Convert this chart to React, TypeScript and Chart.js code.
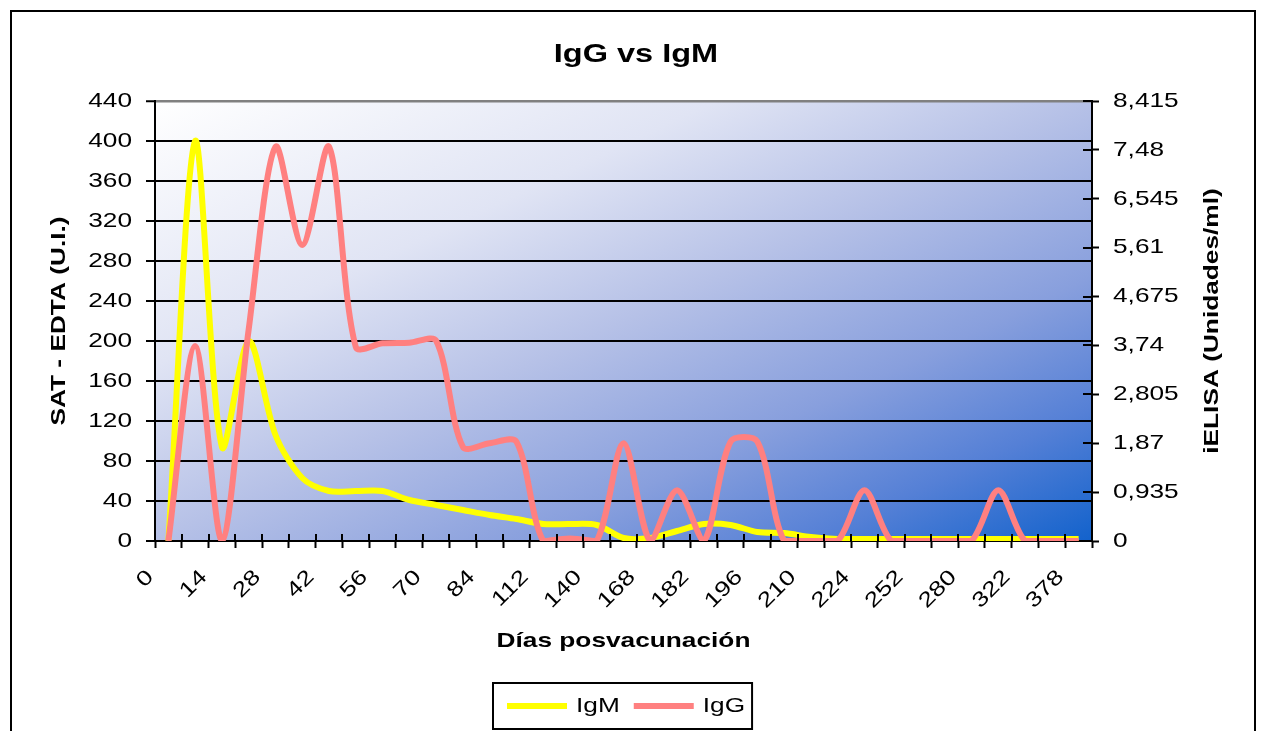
import { useEffect, useRef } from 'react';
import { Chart, registerables } from 'chart.js';

Chart.register(...registerables);

// Etiquetas visibles del eje de días (una categoría sin rótulo entre cada par)
const etiquetasDias = ['0', '14', '28', '42', '56', '70', '84', '112', '140', '168', '182', '196', '210', '224', '252', '280', '322', '378'];
const categorias = etiquetasDias.flatMap((d, i) => (i < etiquetasDias.length - 1 ? [d, ''] : [d]));

// SAT - EDTA (U.I.), eje izquierdo
const igm = [0, 400, 94, 200, 106, 63, 50, 50, 50, 41, 36, 31, 26, 22, 17, 17, 16, 3, 3, 10, 17, 16, 9, 8, 4, 2, 2, 2, 2, 2, 2, 2, 2, 2, 2];

// iELISA (Unidades/ml), eje derecho
const igg = [0, 3.73, 0, 4.05, 7.54, 5.66, 7.54, 3.71, 3.78, 3.79, 3.83, 1.8, 1.87, 1.9, 0, 0.05, 0, 1.87, 0, 0.97, 0, 1.9, 1.9, 0, 0, 0, 0.97, 0, 0, 0, 0, 0.97, 0, 0, 0];

const ticksElisa = [0, 0.935, 1.87, 2.805, 3.74, 4.675, 5.61, 6.545, 7.48, 8.415];

const FUENTE = "'Liberation Sans', Arial, Helvetica, sans-serif";
const ANCHO_GLIFO = 1.25; // los textos se dibujan ensanchados en su propia dirección

Chart.defaults.font.family = FUENTE;
Chart.defaults.color = '#000';

// Fondo del área de trazado: degradado diagonal de blanco a azul
const fondoDegradado = {
  id: 'fondoDegradado',
  beforeDraw(chart: any) {
    const { ctx, chartArea: a } = chart;
    const w = a.right - a.left;
    const h = a.bottom - a.top;
    const k = (2 * w * h) / (w * w + h * h);
    const g = ctx.createLinearGradient(a.left, a.top, a.left + k * h, a.top + k * w);
    g.addColorStop(0, '#FFFFFF');
    g.addColorStop(0.3, '#E0E4F4');
    g.addColorStop(0.5, '#B6C1E7');
    g.addColorStop(0.7, '#889FDD');
    g.addColorStop(0.85, '#5580D6');
    g.addColorStop(1, '#1262CC');
    ctx.save();
    ctx.fillStyle = g;
    ctx.fillRect(a.left, a.top, w, h);
    ctx.restore();
  },
};

// Parte interior de las marcas que cruzan los ejes X y derecho
const marcasCruzadas = {
  id: 'marcasCruzadas',
  afterDatasetsDraw(chart: any) {
    const { ctx, chartArea: a, scales } = chart;
    const x = scales.x;
    const paso = x.getPixelForTick(1) - x.getPixelForTick(0);
    ctx.save();
    ctx.strokeStyle = '#000';
    ctx.lineWidth = 2;
    ctx.beginPath();
    for (let i = 0; i <= categorias.length; i++) {
      const px = Math.round(x.getPixelForTick(0) - paso / 2 + paso * i);
      ctx.moveTo(px, a.bottom);
      ctx.lineTo(px, a.bottom - 7);
    }
    for (const t of scales.y1.ticks) {
      const py = Math.round(scales.y1.getPixelForValue(t.value));
      ctx.moveTo(a.right, py);
      ctx.lineTo(a.right - 9, py);
    }
    ctx.stroke();
    ctx.restore();
  },
};

// Marco exterior, título del eje derecho y leyenda enmarcada
const marcoYLeyenda = {
  id: 'marcoYLeyenda',
  afterDraw(chart: any) {
    const { ctx, chartArea: a } = chart;
    ctx.save();
    ctx.strokeStyle = '#000';
    ctx.lineWidth = 2;
    ctx.strokeRect(11, 11, 1244, 780);

    ctx.save();
    ctx.translate(1212, (a.top + a.bottom) / 2);
    ctx.rotate(-Math.PI / 2);
    ctx.font = `bold 21px ${FUENTE}`;
    ctx.fillStyle = '#000';
    ctx.textAlign = 'center';
    ctx.textBaseline = 'middle';
    ctx.fillText('iELISA (Unidades/ml)', 0, 0);
    ctx.restore();

    ctx.font = `21px ${FUENTE}`;
    const items = chart.data.datasets.map((ds: any) => ({
      label: ds.label,
      color: ds.borderColor,
      w: ctx.measureText(ds.label).width,
    }));
    const muestra = 60;
    const hueco = 9;
    const sep = 14;
    const padL = 14;
    const padR = 7;
    let total = padL + padR + sep * (items.length - 1);
    for (const it of items) total += muestra + hueco + it.w;
    const x0 = Math.round((a.left + a.right) / 2 - 1 - total / 2);
    const top = 683;
    const alto = 46;
    const cy = top + alto / 2;
    ctx.fillStyle = '#fff';
    ctx.fillRect(x0, top, total, alto);
    ctx.strokeStyle = '#000';
    ctx.lineWidth = 2;
    ctx.strokeRect(x0, top, total, alto);
    let x = x0 + padL;
    for (const it of items) {
      ctx.strokeStyle = it.color;
      ctx.lineWidth = 6;
      ctx.beginPath();
      ctx.moveTo(x, cy);
      ctx.lineTo(x + muestra, cy);
      ctx.stroke();
      x += muestra + hueco;
      ctx.fillStyle = '#000';
      ctx.textAlign = 'left';
      ctx.textBaseline = 'middle';
      ctx.fillText(it.label, x, cy);
      x += it.w + sep;
    }
    ctx.restore();
  },
};

function ensancharTexto(ctx: any, k: number) {
  const fill = ctx.fillText.bind(ctx);
  const measure = ctx.measureText.bind(ctx);
  ctx.fillText = (text: string, x: number, y: number, maxWidth?: number) => {
    ctx.save();
    ctx.translate(x, y);
    ctx.scale(k, 1);
    if (typeof maxWidth === 'number') fill(text, 0, 0, maxWidth / k);
    else fill(text, 0, 0);
    ctx.restore();
  };
  ctx.measureText = (text: string) => {
    const m = measure(text);
    return {
      width: m.width * k,
      actualBoundingBoxAscent: m.actualBoundingBoxAscent,
      actualBoundingBoxDescent: m.actualBoundingBoxDescent,
      actualBoundingBoxLeft: m.actualBoundingBoxLeft * k,
      actualBoundingBoxRight: m.actualBoundingBoxRight * k,
      fontBoundingBoxAscent: m.fontBoundingBoxAscent,
      fontBoundingBoxDescent: m.fontBoundingBoxDescent,
    };
  };
}

export default function App() {
  const ref = useRef<HTMLCanvasElement>(null);

  useEffect(() => {
    const canvas = ref.current;
    if (!canvas) return;
    const ctx: any = canvas.getContext('2d');
    ensancharTexto(ctx, ANCHO_GLIFO);

    const linea = { pointRadius: 0, pointHoverRadius: 0, borderWidth: 6, tension: 0.3, fill: false, clip: { left: 6, top: 6, right: 6, bottom: 0 } };

    const chart = new Chart(canvas, {
      type: 'line',
      data: {
        labels: categorias,
        datasets: [
          { ...linea, label: 'IgM', data: igm, yAxisID: 'y', borderColor: '#FFFF00', backgroundColor: '#FFFF00', order: 2 },
          { ...linea, label: 'IgG', data: igg, yAxisID: 'y1', borderColor: '#FF8080', backgroundColor: '#FF8080', order: 1 },
        ],
      },
      options: {
        animation: false,
        responsive: false,
        events: [],
        layout: { padding: { left: 10, right: 0, top: 0, bottom: 0 } },
        plugins: {
          legend: { display: false },
          tooltip: { enabled: false },
          title: {
            display: true,
            text: 'IgG vs IgM',
            color: '#000',
            font: { family: FUENTE, size: 26, weight: 'bold' },
            padding: { top: 39, bottom: 30.8 },
          },
        },
        scales: {
          x: {
            type: 'category',
            offset: true,
            grid: { drawOnChartArea: false, offset: true, color: '#000', tickColor: '#000', tickLength: 7, tickWidth: 2 },
            border: { color: '#000', width: 2 },
            ticks: { autoSkip: false, minRotation: 45, maxRotation: 45, padding: 17, labelOffset: -18, color: '#000', font: { family: FUENTE, size: 21 } },
            title: { display: true, text: 'Días posvacunación', color: '#000', font: { family: FUENTE, size: 21, weight: 'bold' }, padding: { top: 0, bottom: 77 } },
            afterFit: (s: any) => { s.height = 190; },
          },
          y: {
            position: 'left',
            min: 0,
            max: 440,
            ticks: { stepSize: 40, padding: 14, color: '#000', font: { family: FUENTE, size: 21 } },
            grid: {
              color: (c: any) => (c.tick && c.tick.value === 440 ? '#808080' : '#000'),
              lineWidth: (c: any) => (c.tick && c.tick.value === 440 ? 2.5 : 2),
              tickColor: '#000',
              tickLength: 9,
              tickWidth: 2,
            },
            border: { color: '#000', width: 2 },
            title: { display: true, text: 'SAT - EDTA (U.I.)', color: '#000', font: { family: FUENTE, size: 21, weight: 'bold' }, padding: { top: 37, bottom: 0 } },
            afterFit: (s: any) => { s.width = 145; },
          },
          y1: {
            position: 'right',
            min: 0,
            max: 8.415,
            afterBuildTicks: (s: any) => { s.ticks = ticksElisa.map((v) => ({ value: v })); },
            ticks: { padding: 14, color: '#000', font: { family: FUENTE, size: 21 }, callback: (v: any) => String(v).replace('.', ',') },
            grid: { drawOnChartArea: false, color: '#000', tickColor: '#000', tickLength: 7, tickWidth: 2 },
            border: { color: '#000', width: 2 },
            afterFit: (s: any) => { s.width = 170; },
          },
        },
      } as any,
      plugins: [fondoDegradado, marcasCruzadas, marcoYLeyenda],
    });

    return () => {
      chart.destroy();
      delete ctx.fillText;
      delete ctx.measureText;
    };
  }, []);

  return (
    <div style={{ position: 'fixed', left: 0, top: 0, width: 1262, height: 731, background: '#fff' }}>
      <canvas ref={ref} width={1262} height={731} style={{ display: 'block', width: 1262, height: 731 }} />
    </div>
  );
}
